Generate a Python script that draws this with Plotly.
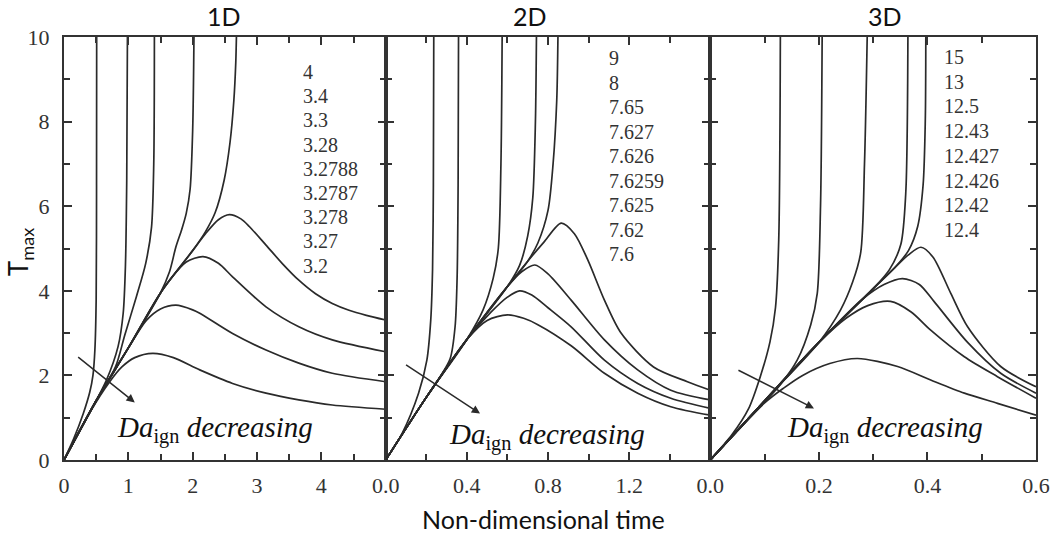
import plotly.graph_objects as go

# ---------------- data ----------------
panel_titles = ["1D", "2D", "3D"]
x_ranges = [[0, 5], [0, 1.6], [0, 0.6]]
x_tickvals = [[0, 1, 2, 3, 4], [0, 0.4, 0.8, 1.2], [0, 0.2, 0.4, 0.6]]
x_ticktext = [["0", "1", "2", "3", "4"], ["0.0", "0.4", "0.8", "1.2"], ["0.0", "0.2", "0.4", "0.6"]]
x_minor = [0.5, 0.2, 0.1]
y_tickvals = [0, 2, 4, 6, 8, 10]

# 1D: Da_ign labels and curves
da_1d = ["4", "3.4", "3.3", "3.28", "3.2788", "3.2787", "3.278", "3.27", "3.2"]
time_1d = [
    [0, 0.15, 0.3, 0.4, 0.45, 0.48, 0.5, 0.506, 0.508],
    [0, 0.4, 0.66, 0.84, 0.92, 0.955, 0.975, 0.986],
    [0, 0.5, 0.8, 0.944, 1.125, 1.27, 1.36, 1.395, 1.405],
    [0, 0.5, 1.0, 1.5, 1.64, 1.74, 1.83, 1.9, 1.96, 2.0, 2.02],
    [0, 0.5, 1.0, 1.5, 2.0, 2.2, 2.35, 2.49, 2.58, 2.64, 2.67, 2.68],
    [0, 0.5, 1.0, 1.5, 2.0, 2.2, 2.4, 2.57, 2.75, 2.88, 3.14, 3.39, 3.65, 3.91, 4.17, 4.43, 4.7, 5.0],
    [0, 0.5, 1.0, 1.5, 1.64, 1.9, 2.16, 2.4, 2.62, 3.14, 3.65, 4.17, 5.0],
    [0, 0.5, 1.0, 1.28, 1.5, 1.74, 2.0, 2.11, 2.62, 3.14, 3.65, 4.17, 5.0],
    [0, 0.4, 0.71, 0.9, 1.1, 1.38, 1.7, 2.11, 2.62, 3.14, 3.65, 4.17, 5.0],
]
tmax_1d = [
    [0, 0.5, 1.1, 1.6, 2.0, 2.6, 3.8, 6.5, 10],
    [0, 1.12, 1.89, 2.68, 3.47, 4.6, 6.6, 10],
    [0, 1.4, 2.2, 2.95, 3.86, 4.65, 5.5, 7.0, 10],
    [0, 1.4, 2.65, 3.95, 4.45, 5.04, 5.45, 5.83, 6.4, 7.8, 10],
    [0, 1.4, 2.65, 3.95, 4.95, 5.4, 5.85, 6.62, 7.5, 8.5, 9.4, 10],
    [0, 1.4, 2.65, 3.95, 4.95, 5.35, 5.68, 5.8, 5.7, 5.52, 5.08, 4.65, 4.25, 3.93, 3.7, 3.54, 3.42, 3.31],
    [0, 1.4, 2.65, 3.95, 4.25, 4.68, 4.81, 4.65, 4.33, 3.62, 3.15, 2.84, 2.56],
    [0, 1.4, 2.65, 3.3, 3.57, 3.66, 3.55, 3.47, 2.99, 2.6, 2.29, 2.05, 1.85],
    [0, 1.12, 1.85, 2.2, 2.42, 2.52, 2.42, 2.13, 1.81, 1.58, 1.42, 1.3, 1.2],
]

# 2D
da_2d = ["9", "8", "7.65", "7.627", "7.626", "7.6259", "7.625", "7.62", "7.6"]
time_2d = [
    [0, 0.08, 0.162, 0.203, 0.222, 0.231, 0.235, 0.237],
    [0, 0.2, 0.27, 0.318, 0.342, 0.352, 0.357, 0.359],
    [0, 0.2, 0.4, 0.48, 0.53, 0.555, 0.568, 0.574],
    [0, 0.2, 0.4, 0.6, 0.66, 0.7, 0.725, 0.738, 0.743],
    [0, 0.2, 0.4, 0.6, 0.7, 0.75, 0.8, 0.825, 0.843, 0.849],
    [0, 0.2, 0.4, 0.6, 0.7, 0.78, 0.865, 0.93, 0.996, 1.078, 1.16, 1.32, 1.487, 1.6],
    [0, 0.2, 0.4, 0.6, 0.67, 0.735, 0.8, 0.914, 1.078, 1.242, 1.405, 1.6],
    [0, 0.2, 0.4, 0.52, 0.6, 0.66, 0.72, 0.8, 0.914, 1.078, 1.242, 1.405, 1.6],
    [0, 0.2, 0.4, 0.5, 0.6, 0.68, 0.75, 0.914, 1.078, 1.242, 1.405, 1.6],
]
tmax_2d = [
    [0, 0.62, 1.58, 2.36, 3.3, 4.5, 6.5, 10],
    [0, 1.48, 1.98, 2.4, 3.15, 4.3, 6.5, 10],
    [0, 1.48, 2.85, 3.55, 4.3, 5.0, 7.0, 10],
    [0, 1.48, 2.85, 4.1, 4.6, 5.3, 6.2, 8.0, 10],
    [0, 1.48, 2.85, 4.1, 4.7, 5.13, 5.9, 7.0, 8.5, 10],
    [0, 1.48, 2.85, 4.1, 4.7, 5.15, 5.6, 5.35, 4.73, 3.78, 3.0, 2.2, 1.85, 1.65],
    [0, 1.48, 2.85, 4.1, 4.45, 4.61, 4.4, 3.78, 2.84, 2.13, 1.65, 1.42],
    [0, 1.48, 2.85, 3.5, 3.85, 4.0, 3.9, 3.6, 3.15, 2.36, 1.81, 1.46, 1.22],
    [0, 1.48, 2.85, 3.3, 3.43, 3.35, 3.2, 2.7, 2.05, 1.58, 1.26, 1.06],
]

# 3D (nine curves, eight labels as in the original)
da_3d = ["15", "13", "12.5", "12.43", "12.427", "12.426", "12.42", "12.4"]
time_3d = [
    [0, 0.04, 0.07, 0.092, 0.11, 0.12, 0.126, 0.129],
    [0, 0.08, 0.13, 0.16, 0.185, 0.197, 0.203, 0.206],
    [0, 0.1, 0.2, 0.24, 0.262, 0.277, 0.284, 0.289],
    [0, 0.1, 0.2, 0.3, 0.33, 0.351, 0.36, 0.364],
    [0, 0.1, 0.2, 0.3, 0.34, 0.365, 0.382, 0.392, 0.396, 0.397],
    [0, 0.1, 0.2, 0.3, 0.34, 0.365, 0.388, 0.41, 0.443, 0.474, 0.535, 0.6],
    [0, 0.1, 0.2, 0.28, 0.32, 0.354, 0.385, 0.412, 0.474, 0.535, 0.6],
    [0, 0.1, 0.2, 0.25, 0.29, 0.332, 0.37, 0.406, 0.468, 0.529, 0.6],
    [0, 0.1, 0.135, 0.17, 0.22, 0.271, 0.345, 0.406, 0.468, 0.529, 0.6],
]
tmax_3d = [
    [0, 0.6, 1.2, 1.97, 2.8, 3.6, 5.2, 10],
    [0, 1.1, 1.8, 2.36, 3.2, 3.94, 6.0, 10],
    [0, 1.4, 2.78, 3.55, 4.2, 4.9, 7.0, 10],
    [0, 1.4, 2.78, 4.05, 4.5, 5.1, 6.3, 10],
    [0, 1.4, 2.78, 4.05, 4.55, 4.95, 5.52, 6.5, 8.0, 10],
    [0, 1.4, 2.78, 4.05, 4.55, 4.85, 5.03, 4.8, 3.94, 3.15, 2.21, 1.73],
    [0, 1.4, 2.78, 3.8, 4.15, 4.29, 4.15, 3.75, 2.78, 2.05, 1.58],
    [0, 1.4, 2.78, 3.35, 3.65, 3.75, 3.5, 3.07, 2.44, 1.97, 1.46],
    [0, 1.35, 1.7, 2.0, 2.28, 2.4, 2.21, 1.89, 1.58, 1.34, 1.06],
]

# "Da_ign decreasing" arrows (tail -> head) and text anchor, in data units
arrow_tail = [(0.197, 2.46), (0.093, 2.27), (0.049, 2.14)]
arrow_head = [(1.10, 1.36), (0.465, 1.10), (0.191, 1.22)]
text_pos = [(2.34, 0.71), (0.797, 0.55), (0.3216, 0.71)]

# ---------------- figure ----------------
W, H = 1062, 538
ML, MR, MT, MB = 64, 22, 37, 78
PW, PH = W - ML - MR, H - MT - MB

def px_x(px):
    return (px - ML) / PW

def px_y(py):
    return (H - MB - py) / PH

LINE = "#2a2a2a"
AX = "#333333"
SERIF = "Liberation Serif"
SANS = "Lato"

domains = [[0, px_x(387)], [px_x(387), px_x(713)], [px_x(713), 1]]

fig = go.Figure()
panels = [(time_1d, tmax_1d), (time_2d, tmax_2d), (time_3d, tmax_3d)]
for i, (tt, TT) in enumerate(panels):
    xa = "x" if i == 0 else f"x{i+1}"
    ya = "y" if i == 0 else f"y{i+1}"
    for t, T in zip(tt, TT):
        fig.add_trace(go.Scatter(
            x=t, y=T, xaxis=xa, yaxis=ya, mode="lines",
            line=dict(color=LINE, width=1.7, shape="spline", smoothing=0.8),
            showlegend=False, hoverinfo="skip"))

tick_common = dict(
    ticks="inside", ticklen=8, tickwidth=1.6, tickcolor=AX,
    showline=True, linewidth=2, linecolor=AX, mirror="ticks",
    showgrid=False, zeroline=False,
    tickfont=dict(family=SERIF, size=22, color="#333"),
)

layout = dict(
    width=W, height=H,
    margin=dict(l=ML, r=MR, t=MT, b=MB),
    paper_bgcolor="white", plot_bgcolor="white",
    showlegend=False,
)
for i in range(3):
    xk = "xaxis" if i == 0 else f"xaxis{i+1}"
    yk = "yaxis" if i == 0 else f"yaxis{i+1}"
    xa_anchor = "y" if i == 0 else f"y{i+1}"
    ya_anchor = "x" if i == 0 else f"x{i+1}"
    layout[xk] = dict(
        domain=domains[i], range=x_ranges[i], anchor=xa_anchor,
        tickmode="array", tickvals=x_tickvals[i], ticktext=x_ticktext[i],
        minor=dict(tick0=0, dtick=x_minor[i], ticks="inside", ticklen=6,
                   tickwidth=1.5, tickcolor=AX),
        ticklabelstandoff=5,
        **tick_common)
    layout[yk] = dict(
        domain=[0, 1], range=[0, 10], anchor=ya_anchor,
        tickmode="array", tickvals=y_tickvals,
        showticklabels=(i == 0),
        minor=dict(tick0=0, dtick=1, ticks="inside", ticklen=6,
                   tickwidth=1.5, tickcolor=AX),
        ticklabelstandoff=8,
        **tick_common)
fig.update_layout(**layout)

ann = []
# panel titles
for title, cx in zip(panel_titles, [225, 532, 888]):
    ann.append(dict(text=title, xref="paper", yref="paper", x=px_x(cx), y=px_y(16),
                    xanchor="center", yanchor="middle",
                    showarrow=False, font=dict(family=SANS, size=25, color="#111")))
# axis titles
ann.append(dict(text="T<sub>max</sub>", xref="paper", yref="paper", x=px_x(20), y=px_y(252),
                xanchor="center", yanchor="middle",
                textangle=-90, showarrow=False, font=dict(family=SANS, size=26, color="#111")))
ann.append(dict(text="Non-dimensional time", xref="paper", yref="paper", x=px_x(545), y=px_y(519),
                xanchor="center", yanchor="middle",
                showarrow=False, font=dict(family=SANS, size=25, color="#111")))

# Da label lists
label_sets = [(da_1d, 302, 72, 24.2), (da_2d, 609, 58, 24.5), (da_3d, 946, 57, 24.7)]
for labels, lx, ly0, dy in label_sets:
    for k, lab in enumerate(labels):
        ann.append(dict(text=lab, xref="paper", yref="paper", x=px_x(lx), y=px_y(ly0 + k * dy),
                        xanchor="left", yanchor="middle", showarrow=False,
                        font=dict(family=SERIF, size=20, color="#333")))

# arrows and "Da_ign decreasing"
for i in range(3):
    xa = "x" if i == 0 else f"x{i+1}"
    ya = "y" if i == 0 else f"y{i+1}"
    ann.append(dict(x=arrow_head[i][0], y=arrow_head[i][1], ax=arrow_tail[i][0], ay=arrow_tail[i][1],
                    xref=xa, yref=ya, axref=xa, ayref=ya, text="", showarrow=True,
                    arrowhead=2, arrowsize=1.1, arrowwidth=1.5, arrowcolor=LINE))
    ann.append(dict(x=text_pos[i][0], y=text_pos[i][1], xref=xa, yref=ya,
                    xanchor="center", yanchor="middle",
                    text="<i>Da</i><sub>ign</sub> <i>decreasing</i>", showarrow=False,
                    font=dict(family=SERIF, size=29, color="#111")))
fig.update_layout(annotations=ann)

fig.write_html("out.html")
